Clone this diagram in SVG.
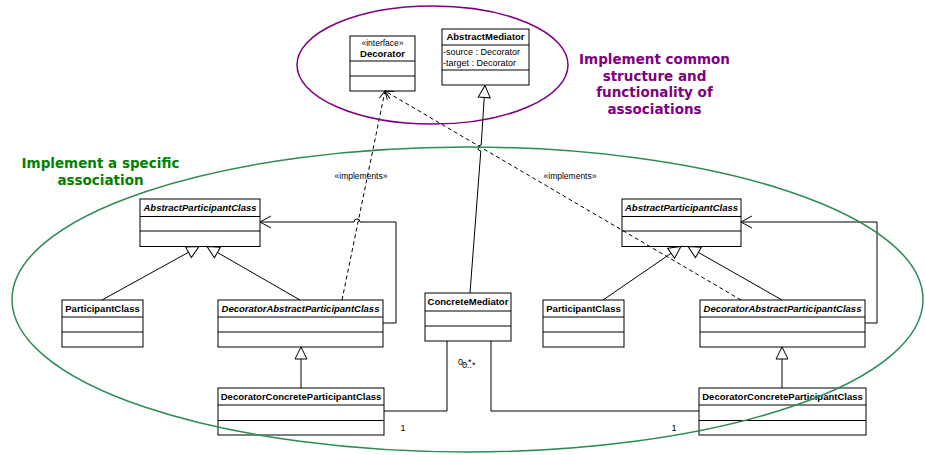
<svg xmlns="http://www.w3.org/2000/svg" width="925" height="455" viewBox="0 0 925 455">
<style>
.box{fill:#fff;stroke:#000;stroke-width:1}
.sep{stroke:#000;stroke-width:1}
.nm{font-family:"Liberation Sans",Arial,sans-serif;font-size:9.5px;font-weight:bold;text-anchor:middle;fill:#000}
.it{font-style:italic}
.tx{font-family:"Liberation Sans",Arial,sans-serif;font-size:9px;fill:#000}
.ln{fill:none;stroke:#000;stroke-width:1}
.dash{fill:none;stroke:#000;stroke-width:1;stroke-dasharray:4 3}
.title{font-family:"DejaVu Sans",Verdana,sans-serif;font-size:13.5px;font-weight:bold;text-anchor:middle}
</style>
<defs>
<marker id="gen" viewBox="0 0 14 14" refX="13" refY="7" markerWidth="14" markerHeight="14" orient="auto" markerUnits="userSpaceOnUse">
<path d="M1,1 L13,7 L1,13 Z" fill="#fff" stroke="#000" stroke-width="1"/>
</marker>
<marker id="open" viewBox="0 0 14 14" refX="13" refY="7" markerWidth="14" markerHeight="14" orient="auto" markerUnits="userSpaceOnUse">
<path d="M2,1 L13,7 L2,13" fill="none" stroke="#000" stroke-width="1"/>
</marker>
<marker id="openS" viewBox="0 0 10 10" refX="9" refY="5" markerWidth="10" markerHeight="10" orient="auto" markerUnits="userSpaceOnUse">
<path d="M1,1 L9,5 L1,9" fill="none" stroke="#000" stroke-width="1"/>
</marker>
</defs>
<rect width="925" height="455" fill="#fff"/>

<g id="decorator">
<rect class="box" x="350" y="36" width="65" height="55"/>
<line class="sep" x1="350" y1="61" x2="415" y2="61"/>
<line class="sep" x1="350" y1="76" x2="415" y2="76"/>
<text class="tx" x="382.5" y="45.5" text-anchor="middle" style="font-size:8.5px">«interface»</text>
<text class="nm" x="382.5" y="57">Decorator</text>
</g>

<g id="abstractMediator">
<rect class="box" x="442" y="29" width="87" height="56"/>
<line class="sep" x1="442" y1="45" x2="529" y2="45"/>
<line class="sep" x1="442" y1="70" x2="529" y2="70"/>
<text class="nm" x="485.5" y="40">AbstractMediator</text>
<text class="tx" x="443" y="54.5">-source : Decorator</text>
<text class="tx" x="443" y="66">-target : Decorator</text>
</g>

<g id="abstractParticipantLeft">
<rect class="box" x="140" y="199" width="120" height="47.5"/>
<line class="sep" x1="140" y1="216.5" x2="260" y2="216.5"/>
<line class="sep" x1="140" y1="231" x2="260" y2="231"/>
<text class="nm it" x="200" y="211">AbstractParticipantClass</text>
</g>

<g id="participantLeft">
<rect class="box" x="62" y="300" width="81" height="47"/>
<line class="sep" x1="62" y1="317" x2="143" y2="317"/>
<line class="sep" x1="62" y1="332" x2="143" y2="332"/>
<text class="nm" x="102.5" y="312">ParticipantClass</text>
</g>

<g id="decoratorAbstractLeft">
<rect class="box" x="218" y="300" width="165" height="47"/>
<line class="sep" x1="218" y1="317" x2="383" y2="317"/>
<line class="sep" x1="218" y1="332" x2="383" y2="332"/>
<text class="nm it" x="300.5" y="312">DecoratorAbstractParticipantClass</text>
</g>

<g id="decoratorConcreteLeft">
<rect class="box" x="218" y="388" width="166" height="47"/>
<line class="sep" x1="218" y1="405" x2="384" y2="405"/>
<line class="sep" x1="218" y1="420.5" x2="384" y2="420.5"/>
<text class="nm" x="301" y="400">DecoratorConcreteParticipantClass</text>
</g>

<g id="concreteMediator">
<rect class="box" x="425" y="293" width="86" height="48"/>
<line class="sep" x1="425" y1="311" x2="511" y2="311"/>
<line class="sep" x1="425" y1="326" x2="511" y2="326"/>
<text class="nm" x="468" y="304.5">ConcreteMediator</text>
</g>

<g id="abstractParticipantRight">
<rect class="box" x="622" y="199" width="119" height="47.5"/>
<line class="sep" x1="622" y1="216.5" x2="741" y2="216.5"/>
<line class="sep" x1="622" y1="231" x2="741" y2="231"/>
<text class="nm it" x="681.5" y="211">AbstractParticipantClass</text>
</g>

<g id="participantRight">
<rect class="box" x="543" y="300" width="81" height="47"/>
<line class="sep" x1="543" y1="317" x2="624" y2="317"/>
<line class="sep" x1="543" y1="332" x2="624" y2="332"/>
<text class="nm" x="583.5" y="312">ParticipantClass</text>
</g>

<g id="decoratorAbstractRight">
<rect class="box" x="700" y="300" width="165" height="47"/>
<line class="sep" x1="700" y1="317" x2="865" y2="317"/>
<line class="sep" x1="700" y1="332" x2="865" y2="332"/>
<text class="nm it" x="782.5" y="312">DecoratorAbstractParticipantClass</text>
</g>

<g id="decoratorConcreteRight">
<rect class="box" x="699" y="388" width="167" height="47"/>
<line class="sep" x1="699" y1="405" x2="866" y2="405"/>
<line class="sep" x1="699" y1="420.5" x2="866" y2="420.5"/>
<text class="nm" x="782.5" y="400">DecoratorConcreteParticipantClass</text>
</g>

<g id="connectors">
<!-- generalizations -->
<path class="ln" d="M470,293 L480.8,151 A3,3 0 0 1 481.2,145 L485,85.5" marker-end="url(#gen)"/>
<line class="ln" x1="102" y1="300" x2="199" y2="246.5" marker-end="url(#gen)"/>
<line class="ln" x1="300" y1="300" x2="207" y2="246.5" marker-end="url(#gen)"/>
<line class="ln" x1="301" y1="388" x2="301" y2="347" marker-end="url(#gen)"/>
<line class="ln" x1="603" y1="300" x2="681" y2="246.5" marker-end="url(#gen)"/>
<line class="ln" x1="782" y1="300" x2="688" y2="246.5" marker-end="url(#gen)"/>
<line class="ln" x1="782" y1="388" x2="782" y2="347" marker-end="url(#gen)"/>
<!-- self associations -->
<path class="ln" d="M383,323 L396,323 L396,222 L360,222 A3,3 0 0 0 354,222 L260,222" marker-end="url(#open)"/>
<path class="ln" d="M865,323 L877,323 L877,222 L741,222" marker-end="url(#open)"/>
<!-- implements -->
<line class="dash" x1="342" y1="300" x2="385" y2="91" marker-end="url(#openS)"/>
<line class="dash" x1="741" y1="300" x2="385" y2="91" marker-end="url(#openS)"/>
<text class="tx" x="361" y="179" text-anchor="middle" style="font-size:8.5px">«implements»</text>
<text class="tx" x="570" y="179" text-anchor="middle" style="font-size:8.5px">«implements»</text>
<!-- mediator associations -->
<path class="ln" d="M447,341 L447,411 L384,411"/>
<path class="ln" d="M491,341 L491,411 L699,411"/>
<text class="tx" x="403" y="431" text-anchor="middle">1</text>
<text class="tx" x="674" y="431" text-anchor="middle">1</text>
<text class="tx" x="458" y="365">0..*</text>
<text class="tx" x="462" y="368">0..*</text>
</g>

<g id="groups">
<ellipse cx="432.5" cy="65" rx="135.5" ry="59" fill="none" stroke="#800080" stroke-width="1.5"/>
<ellipse cx="467.5" cy="299.5" rx="455.5" ry="152.5" fill="none" stroke="#2e8b57" stroke-width="1.5"/>
<text class="title" fill="#800080"><tspan x="654.5" y="64">Implement common</tspan><tspan x="654.5" y="80.5">structure and</tspan><tspan x="654.5" y="97">functionality of</tspan><tspan x="654.5" y="113.5">associations</tspan></text>
<text class="title" fill="#008000"><tspan x="100.5" y="168">Implement a specific</tspan><tspan x="100.5" y="185">association</tspan></text>
</g>
</svg>
